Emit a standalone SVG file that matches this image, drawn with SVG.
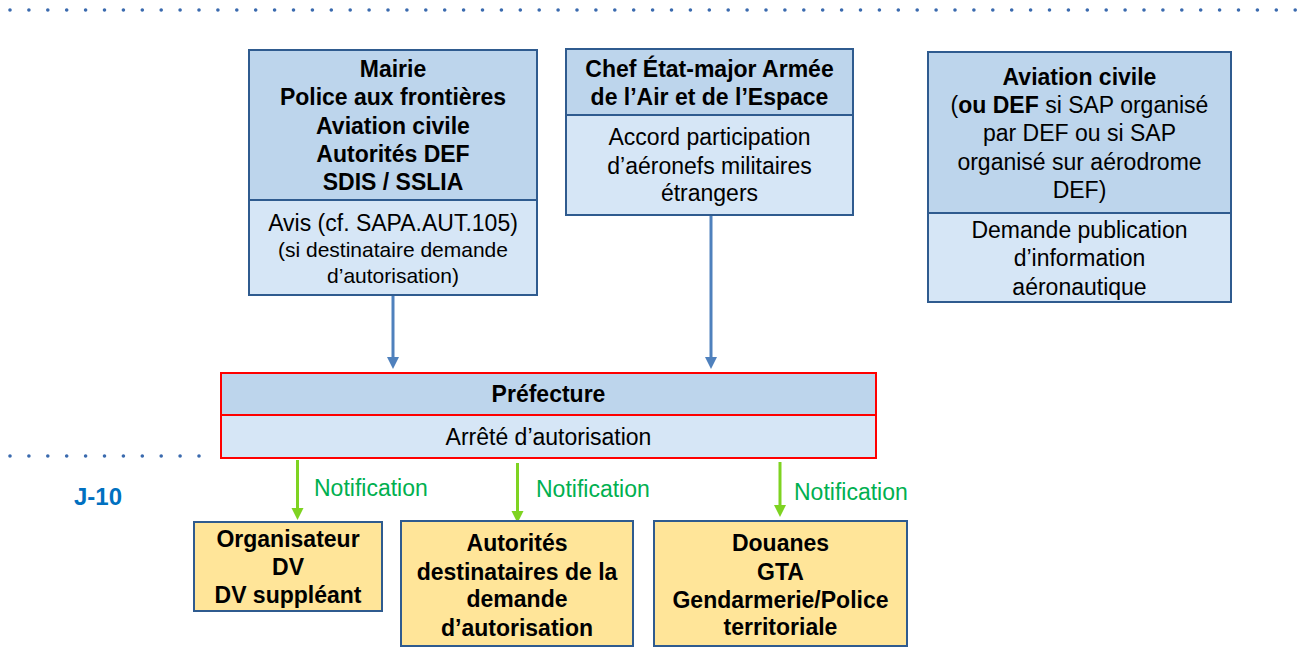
<svg xmlns="http://www.w3.org/2000/svg" width="1312" height="648" viewBox="0 0 1312 648">
<style>
text{font-family:"Liberation Sans",Arial,sans-serif;font-size:23px;fill:#000;text-anchor:middle}
.b{font-weight:bold}
.s{font-size:21px}
.hd{fill:#BDD5EC;stroke:#2F5B8F;stroke-width:2}
.bd{fill:#D6E6F6;stroke:#2F5B8F;stroke-width:2}
.phd{fill:#BDD5EC;stroke:#FF0000;stroke-width:2}
.pbd{fill:#D6E6F6;stroke:#FF0000;stroke-width:2}
.y{fill:#FFE599;stroke:#2F5B8F;stroke-width:2}
.dots{stroke:#3A6AAE;stroke-width:3.6;stroke-linecap:round;stroke-dasharray:0 18.9;fill:none}
.blue{stroke:#4F81BD;stroke-width:3;fill:none}
.green{stroke:#7ED321;stroke-width:3;fill:none}
.notif{fill:#00B050;text-anchor:start}
.ahb{fill:#4F81BD}
.ahg{fill:#7ED321}
</style>
<rect width="1312" height="648" fill="#fff"/>
<g id="timeline">
<line class="dots" x1="10" y1="10" x2="1306" y2="10"/>
<line class="dots" x1="10" y1="456" x2="200" y2="456"/>
<text x="98" y="505" class="b" style="fill:#0070C0;font-size:24px">J-10</text>
</g>
<g id="connectors">
<line class="blue" x1="393" y1="296" x2="393" y2="358"/>
<path class="ahb" d="M387,357 L399,357 L393,369 Z"/>
<line class="blue" x1="711" y1="216" x2="711" y2="358"/>
<path class="ahb" d="M705,357 L717,357 L711,369 Z"/>
<line class="green" x1="297.5" y1="460" x2="297.5" y2="509"/>
<path class="ahg" d="M291.5,508 L303.5,508 L297.5,520 Z"/>
<text class="notif" x="314" y="496">Notification</text>
<line class="green" x1="517.5" y1="463" x2="517.5" y2="512"/>
<path class="ahg" d="M511.5,511 L523.5,511 L517.5,523 Z"/>
<text class="notif" x="536" y="497">Notification</text>
<line class="green" x1="780" y1="462" x2="780" y2="506"/>
<path class="ahg" d="M774,505 L786,505 L780,517 Z"/>
<text class="notif" x="794" y="500">Notification</text>
</g>
<g id="mairie">
<rect class="hd" x="249" y="50" width="288" height="150"/>
<rect class="bd" x="249" y="200" width="288" height="95"/>
<text x="393" y="77" class="b">Mairie</text>
<text x="393" y="105" class="b">Police aux frontières</text>
<text x="393" y="134" class="b">Aviation civile</text>
<text x="393" y="162" class="b">Autorités DEF</text>
<text x="393" y="190" class="b">SDIS / SSLIA</text>
<text x="393" y="231">Avis (cf. SAPA.AUT.105)</text>
<text x="393" y="257" class="s">(si destinataire demande</text>
<text x="393" y="283" class="s">d’autorisation)</text>
</g>
<g id="chef">
<rect class="hd" x="566" y="49" width="287" height="66"/>
<rect class="bd" x="566" y="115" width="287" height="100"/>
<text x="709.5" y="77" class="b">Chef État-major Armée</text>
<text x="709.5" y="105" class="b">de l’Air et de l’Espace</text>
<text x="709.5" y="145">Accord participation</text>
<text x="709.5" y="174">d’aéronefs militaires</text>
<text x="709.5" y="201">étrangers</text>
</g>
<g id="aviation">
<rect class="hd" x="928" y="52" width="303" height="161"/>
<rect class="bd" x="928" y="213" width="303" height="89"/>
<text x="1079.5" y="85" class="b">Aviation civile</text>
<text x="1079.5" y="113">(<tspan class="b">ou DEF</tspan> si SAP organisé</text>
<text x="1079.5" y="141">par DEF ou si SAP</text>
<text x="1079.5" y="170">organisé sur aérodrome</text>
<text x="1079.5" y="198">DEF)</text>
<text x="1079.5" y="238">Demande publication</text>
<text x="1079.5" y="266">d’information</text>
<text x="1079.5" y="295">aéronautique</text>
</g>
<g id="prefecture">
<rect class="phd" x="221" y="373" width="655" height="42"/>
<rect class="pbd" x="221" y="415" width="655" height="43"/>
<text x="548.5" y="402" class="b">Préfecture</text>
<text x="548.5" y="445">Arrêté d’autorisation</text>
</g>
<g id="organisateur">
<rect class="y" x="194" y="522" width="188" height="89"/>
<text x="288" y="547" class="b">Organisateur</text>
<text x="288" y="575" class="b">DV</text>
<text x="288" y="603" class="b">DV suppléant</text>
</g>
<g id="autorites">
<rect class="y" x="401" y="521" width="232" height="125"/>
<text x="517" y="551" class="b">Autorités</text>
<text x="517" y="580" class="b">destinataires de la</text>
<text x="517" y="607" class="b">demande</text>
<text x="517" y="636" class="b">d’autorisation</text>
</g>
<g id="douanes">
<rect class="y" x="654" y="521" width="253" height="125"/>
<text x="780.5" y="551" class="b">Douanes</text>
<text x="780.5" y="580" class="b">GTA</text>
<text x="780.5" y="608" class="b">Gendarmerie/Police</text>
<text x="780.5" y="635" class="b">territoriale</text>
</g>
</svg>
